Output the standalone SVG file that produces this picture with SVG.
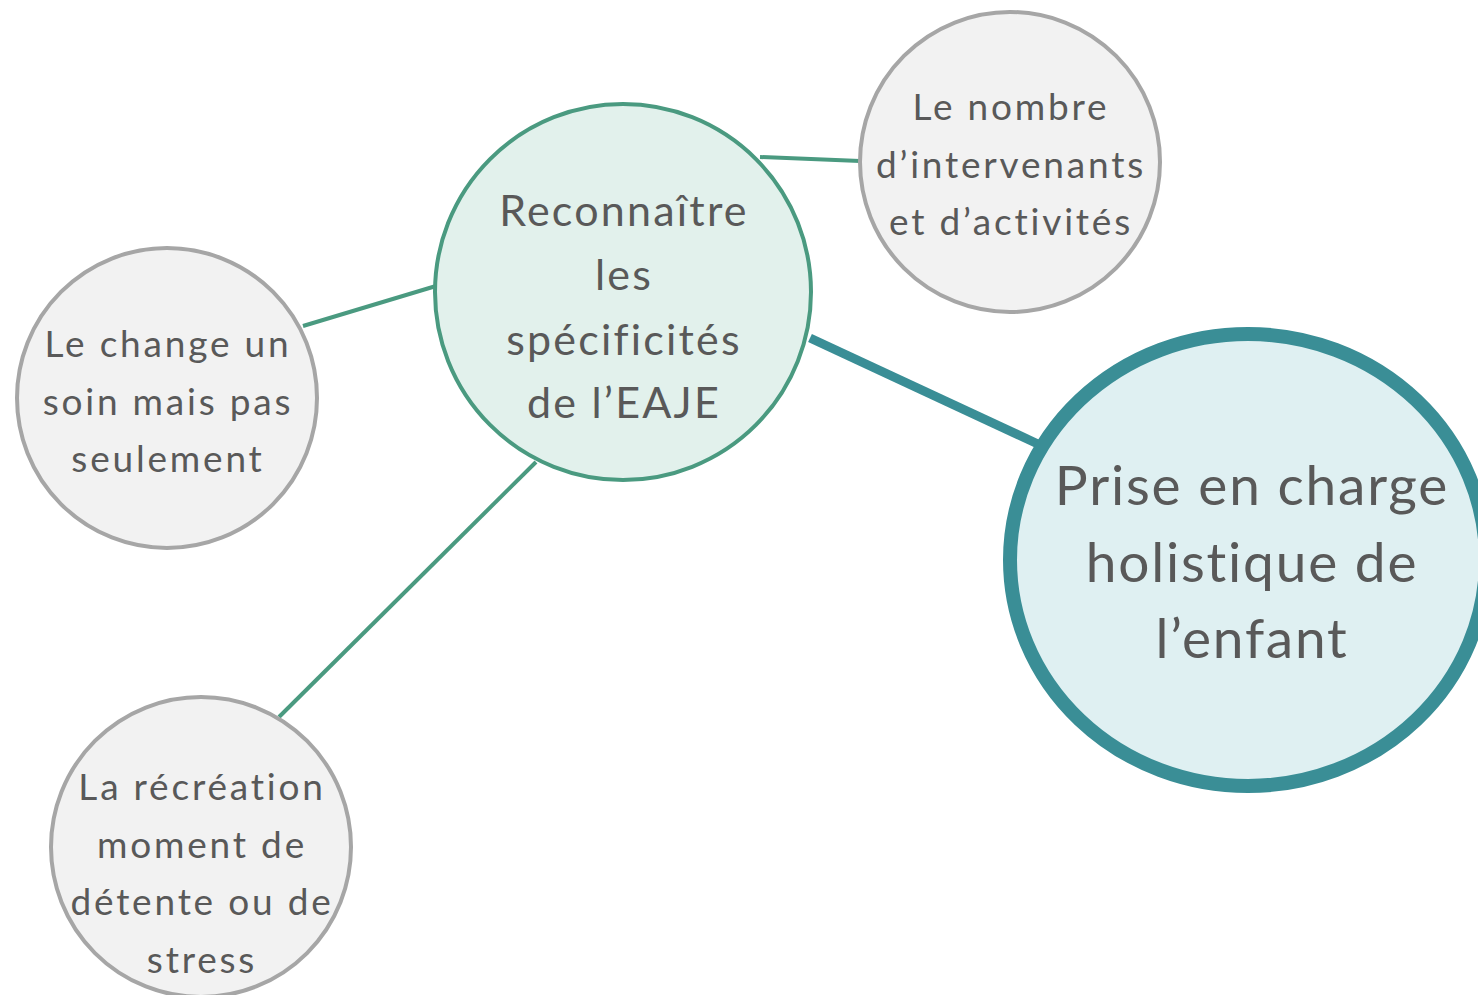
<svg xmlns="http://www.w3.org/2000/svg" width="1478" height="995" viewBox="0 0 1478 995">
<style>
.t{font-family:Lato,"Noto Sans",sans-serif;fill:#595959;text-anchor:middle;font-variant-ligatures:none}
.s{font-size:37px;letter-spacing:2.8px}
.c{font-size:43px;letter-spacing:2.2px}
.b{font-size:55px;letter-spacing:1.8px}
.grey{fill:#F2F2F2;stroke:#A6A6A6;stroke-width:4}
.gl{stroke:#4A9A80;stroke-width:4;fill:none}
</style>
<rect width="1478" height="995" fill="#FFFFFF"/>
<g id="connectors">
<line class="gl" x1="760" y1="157" x2="860" y2="161"/>
<line class="gl" x1="303" y1="326" x2="436" y2="286"/>
<line class="gl" x1="536" y1="462" x2="279" y2="717"/>
<line x1="810" y1="338" x2="1040" y2="445" stroke="#3A8E96" stroke-width="9"/>
</g>
<g id="center">
<circle cx="623" cy="292" r="188" fill="#E2F1EC" stroke="#4A9A80" stroke-width="4"/>
<text class="t c" x="624" y="226">Reconnaître</text>
<text class="t c" x="624" y="290">les</text>
<text class="t c" x="624" y="355">spécificités</text>
<text class="t c" x="624" y="418">de l’EAJE</text>
</g>
<g id="holistic">
<ellipse cx="1248" cy="560" rx="238" ry="226" fill="#DFF0F2" stroke="#3A8E96" stroke-width="14"/>
<text class="t b" x="1252" y="505">Prise en charge</text>
<text class="t b" x="1252" y="582">holistique de</text>
<text class="t b" x="1252" y="658">l’enfant</text>
</g>
<g id="intervenants">
<circle class="grey" cx="1010" cy="162" r="150"/>
<text class="t s" x="1011" y="120">Le nombre</text>
<text class="t s" x="1011" y="178">d’intervenants</text>
<text class="t s" x="1011" y="235">et d’activités</text>
</g>
<g id="change">
<circle class="grey" cx="167" cy="398" r="150"/>
<text class="t s" x="168" y="357">Le change un</text>
<text class="t s" x="168" y="415">soin mais pas</text>
<text class="t s" x="168" y="472">seulement</text>
</g>
<g id="recreation">
<circle class="grey" cx="201" cy="847" r="150"/>
<text class="t s" x="202" y="800">La récréation</text>
<text class="t s" x="202" y="858">moment de</text>
<text class="t s" x="202" y="915">détente ou de</text>
<text class="t s" x="202" y="973">stress</text>
</g>
</svg>
